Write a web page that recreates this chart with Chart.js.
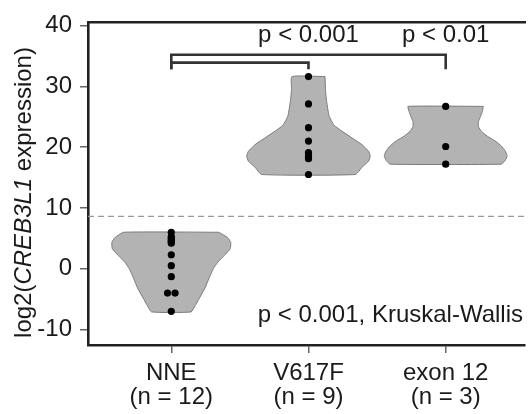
<!DOCTYPE html>
<html>
<head>
<meta charset="utf-8">
<script src="https://cdn.jsdelivr.net/npm/chart.js@4.4.0/dist/chart.umd.min.js"></script>
<style>
    html, body { margin: 0; padding: 0; background: #fff; overflow: hidden; }
    #wrap { width: 529px; height: 414px; }
</style>
</head>
<body>
<div id="wrap"><canvas id="chartViolin"></canvas></div>
<script>
// groups on the x axis
const groups = ["NNE", "V617F", "exon 12"];
const groupCounts = ["(n = 12)", "(n = 9)", "(n = 3)"];

// individual samples, log2 expression
const nneValues = [6.0, 5.3, 5.0, 4.7, 4.5, 4.2, 2.3, 0.5, -1.3, -4.0, -4.0, -7.0];
const v617fValues = [31.6, 27.1, 23.2, 21.0, 19.1, 18.6, 18.3, 18.1, 15.5];
const exon12Values = [26.7, 20.1, 17.2];

// violin outlines: levels and relative density
const nneLevels = [6.0, 5.1, 4.3, 3.3, 2.2, 1.1, 0.0, -1.6, -3.2, -4.8, -6.1, -7.1];
const nneDensity = [0.77, 0.915, 0.963, 0.955, 0.86, 0.755, 0.68, 0.61, 0.545, 0.457, 0.385, 0.32];
const v617fLevels = [31.6, 29.5, 27.9, 25.2, 23.6, 22.6, 21.5, 20.4, 19.3, 18.5, 17.7, 16.7, 15.5];
const v617fDensity = [0.268, 0.275, 0.289, 0.332, 0.413, 0.546, 0.706, 0.867, 0.974, 1.0, 0.974, 0.867, 0.76];
const exon12Levels = [26.7, 25.9, 25.0, 24.2, 23.4, 22.6, 21.8, 21.0, 20.2, 19.4, 18.6, 17.8, 17.2];
const exon12Density = [0.61, 0.594, 0.562, 0.53, 0.53, 0.578, 0.674, 0.803, 0.9, 0.963, 0.995, 0.963, 0.9];

// axis ticks
const yTicks = [-10, 0, 10, 20, 30, 40];
const xTicks = [1, 2, 3];

// reference line and comparisons
const cutoffValue = 8.6;
const bracketFrom = [1, 1];
const bracketTo = [3, 2];
const bracketTop = [35.2, 33.9];
const bracketFoot = 32.8;
const pairLabels = ["p < 0.01", "p < 0.001"];
const pairLabelY = 37.3;
const kwLabel = "p < 0.001, Kruskal-Wallis";
const kwLabelY = -8.7;

const X_MIN = 0.393, X_MAX = 3.578;
const Y_MIN = -12.54, Y_MAX = 40.51;
const VIOLIN_HALF = 0.45;
const FONT = '"Liberation Sans", Arial, sans-serif';
const textColor = "#1a1a1a";

function violinShape(center, levels, density) {
    const right = levels.map((y, i) => ({ x: center + density[i] * VIOLIN_HALF, y }));
    const left = levels.map((y, i) => ({ x: center - density[i] * VIOLIN_HALF, y })).reverse();
    return right.concat(left, [right[0]]);
}

// spread equal values sideways a little, like a beeswarm
function dots(center, values) {
    return values.map((v, i) => {
        const same = values.filter(w => w === v).length;
        if (same < 2) return { x: center, y: v };
        const k = values.slice(0, i).filter(w => w === v).length;
        return { x: center + (k - (same - 1) / 2) * 0.055, y: v };
    });
}

function violinSet(shape) {
    return {
        type: "line",
        data: shape,
        borderColor: "#7a7a7a",
        borderWidth: 1,
        backgroundColor: "#b3b3b3",
        fill: "shape",
        tension: 0.15,
        pointRadius: 0,
        order: 3
    };
}

function bracketSet(i) {
    return {
        type: "line",
        data: [
            { x: bracketFrom[i], y: bracketFoot },
            { x: bracketFrom[i], y: bracketTop[i] },
            { x: bracketTo[i], y: bracketTop[i] },
            { x: bracketTo[i], y: bracketFoot }
        ],
        borderColor: "#333",
        borderWidth: 2.6,
        fill: false,
        tension: 0,
        pointRadius: 0,
        order: 2
    };
}

const allDots = dots(1, nneValues).concat(dots(2, v617fValues), dots(3, exon12Values));

// text drawn on top: p values and the y title with italic gene name
const annotationText = {
    id: "annotationText",
    afterDatasetsDraw(chart) {
        const { ctx, chartArea } = chart;
        const x = chart.scales.x, y = chart.scales.y;
        ctx.save();
        ctx.fillStyle = textColor;
        ctx.font = "24px " + FONT;
        ctx.textBaseline = "alphabetic";
        ctx.textAlign = "center";
        pairLabels.forEach((lab, i) => {
            ctx.fillText(lab, x.getPixelForValue(bracketTo[i]), y.getPixelForValue(pairLabelY));
        });
        ctx.textAlign = "right";
        ctx.fillText(kwLabel, chartArea.right - 2, y.getPixelForValue(kwLabelY));

        // y axis title
        const parts = [["log2(", ""], ["CREB3L1", "italic "], [" expression)", ""]];
        let total = 0;
        parts.forEach(p => { ctx.font = p[1] + "24px " + FONT; total += ctx.measureText(p[0]).width; });
        ctx.translate(24, 192.5);
        ctx.rotate(-Math.PI / 2);
        ctx.textAlign = "left";
        ctx.textBaseline = "middle";
        let pos = -total / 2;
        parts.forEach(p => {
            ctx.font = p[1] + "24px " + FONT;
            ctx.fillText(p[0], pos, 0);
            pos += ctx.measureText(p[0]).width;
        });
        ctx.restore();
    }
};

new Chart(document.getElementById("chartViolin"), {
    type: "scatter",
    data: {
        datasets: [
            {
                data: allDots,
                backgroundColor: "#000",
                borderColor: "#000",
                pointRadius: 3.6,
                pointBorderWidth: 0,
                order: 0
            },
            violinSet(violinShape(1, nneLevels, nneDensity)),
            violinSet(violinShape(2, v617fLevels, v617fDensity)),
            violinSet(violinShape(3, exon12Levels, exon12Density)),
            {
                type: "line",
                data: [{ x: X_MIN, y: cutoffValue }, { x: X_MAX, y: cutoffValue }],
                borderColor: "#9a9a9a",
                borderWidth: 1.2,
                borderDash: [6, 4],
                fill: false,
                pointRadius: 0,
                order: 1
            },
            bracketSet(0),
            bracketSet(1)
        ]
    },
    options: {
        responsive: true,
        maintainAspectRatio: false,
        animation: false,
        layout: { padding: 0 },
        plugins: { legend: { display: false }, tooltip: { enabled: false } },
        scales: {
            x: {
                type: "linear",
                position: "bottom",
                min: X_MIN,
                max: X_MAX,
                afterBuildTicks: s => { s.ticks = xTicks.map(v => ({ value: v })); },
                afterFit: s => { s.height = 69; },
                ticks: {
                    color: textColor,
                    font: { family: FONT, size: 24, lineHeight: 1.0 },
                    padding: 8,
                    maxRotation: 0,
                    callback: v => [groups[v - 1], groupCounts[v - 1]]
                },
                grid: { drawOnChartArea: false, tickLength: 8, color: "#666", lineWidth: 1.5 },
                border: { display: true, color: "#222", width: 2.6 }
            },
            xTop: {
                type: "linear",
                position: "top",
                min: X_MIN,
                max: X_MAX,
                afterFit: s => { s.height = 15; },
                ticks: { display: false },
                grid: { drawOnChartArea: false, drawTicks: false },
                border: { display: true, color: "#222", width: 2.6 }
            },
            y: {
                type: "linear",
                min: Y_MIN,
                max: Y_MAX,
                afterBuildTicks: s => { s.ticks = yTicks.map(v => ({ value: v })); },
                afterFit: s => { s.width = 88; },
                ticks: {
                    color: textColor,
                    font: { family: FONT, size: 24 },
                    padding: 8
                },
                grid: { drawOnChartArea: false, tickLength: 8, color: "#666", lineWidth: 1.5 },
                border: { display: true, color: "#222", width: 2.6 }
            }
        }
    },
    plugins: [annotationText]
});
</script>
</body>
</html>
